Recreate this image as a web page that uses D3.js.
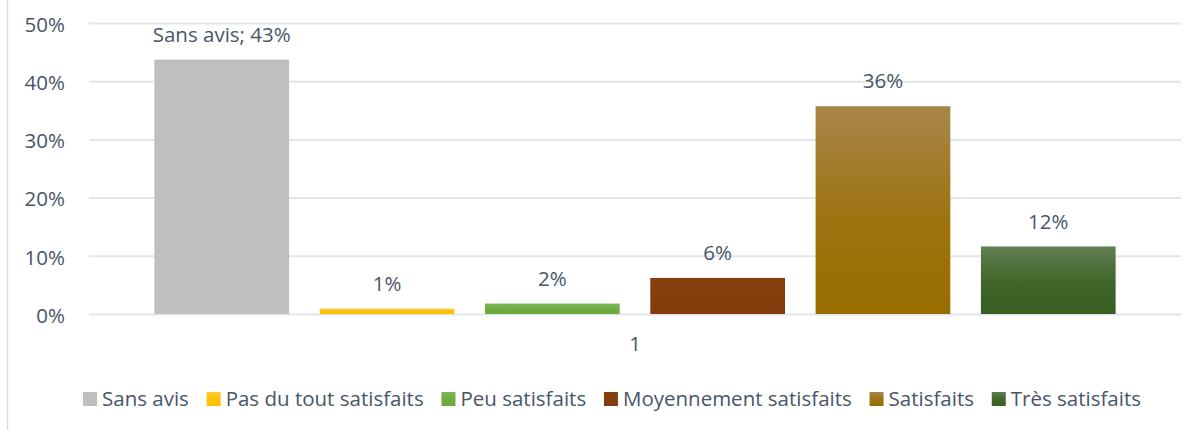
<!DOCTYPE html>
<meta charset="utf-8">
<style>
body { margin: 0; background: #fff; }
svg { display: block; }
text { font-family: "Open Sans", Lato, sans-serif; fill: #4a5568; }
.grid line { stroke: #e2e6ea; stroke-width: 2px; }
</style>
<body>
<svg id="chart" width="1196" height="430"></svg>
<script src="https://cdn.jsdelivr.net/npm/d3@7"></script>
<script>
// data
var categories = ["1"];
var series = ["Sans avis", "Pas du tout satisfaits", "Peu satisfaits", "Moyennement satisfaits", "Satisfaits", "Très satisfaits"];
var values = [0.437, 0.009, 0.018, 0.062, 0.357, 0.116];
var valueLabels = ["Sans avis; 43%", "1%", "2%", "6%", "36%", "12%"];
var yTicks = [0, 0.1, 0.2, 0.3, 0.4, 0.5];
// gradient top / bottom colours per series
var colTop = ["#bfbfbf", "#ffcb2e", "#7db957", "#86400e", "#a8864a", "#5f7f50"];
var colBottom = ["#bfbfbf", "#ffc000", "#6aa73c", "#853c0c", "#996e00", "#385e20"];

var svg = d3.select("#chart");
var plotL = 89, plotR = 1181, plotT = 23, plotB = 314;
var fs = "20.5px";

// chart frame edge on the left
svg.append("line").attr("x1", 7.5).attr("x2", 7.5).attr("y1", 0).attr("y2", 430)
  .attr("stroke", "#d9dde2").attr("stroke-width", 1.5);

var defs = svg.append("defs");
series.forEach(function (s, i) {
  var g = defs.append("linearGradient").attr("id", "grad" + i)
    .attr("x1", 0).attr("y1", 0).attr("x2", 0).attr("y2", 1);
  g.append("stop").attr("offset", "0%").attr("stop-color", colTop[i]);
  g.append("stop").attr("offset", "55%").attr("stop-color", d3.interpolateRgb(colTop[i], colBottom[i])(0.8));
  g.append("stop").attr("offset", "100%").attr("stop-color", colBottom[i]);
});

var y = d3.scaleLinear().domain([0, 0.5]).range([plotB, plotT]);
var x0 = d3.scaleBand().domain(categories).range([plotL, plotR]).paddingOuter(0.068);
var x1 = d3.scaleBand().domain(series).range([0, x0.bandwidth()]).paddingInner(0.185);

// y axis + gridlines
var yAxis = svg.append("g").attr("class", "grid")
  .attr("transform", "translate(" + plotL + ",0)")
  .call(d3.axisLeft(y).tickValues(yTicks).tickFormat(d3.format(".0%"))
    .tickSize(-(plotR - plotL)).tickPadding(24));
yAxis.select(".domain").remove();
yAxis.selectAll("text").style("font-size", fs).attr("dy", "0.4em").attr("fill", "#4a5568");

// x axis
var xAxis = svg.append("g").attr("transform", "translate(0," + plotB + ")")
  .call(d3.axisBottom(x0).tickSize(0).tickPadding(22));
xAxis.select(".domain").remove();
xAxis.selectAll("text").style("font-size", fs).attr("fill", "#4a5568");
svg.selectAll(".tick text").attr("font-family", null);

// bars
var g = svg.append("g").attr("transform", "translate(" + x0(categories[0]) + ",0)");
g.selectAll("rect").data(values).enter().append("rect")
  .attr("x", function (d, i) { return x1(series[i]); })
  .attr("y", function (d) { return y(d); })
  .attr("width", x1.bandwidth())
  .attr("height", function (d) { return y(0) - y(d); })
  .attr("fill", function (d, i) { return "url(#grad" + i + ")"; });

g.selectAll(".lbl").data(values).enter().append("text")
  .attr("class", "lbl")
  .attr("x", function (d, i) { return x1(series[i]) + x1.bandwidth() / 2; })
  .attr("y", function (d) { return y(d) - 25; })
  .attr("dy", "0.35em")
  .attr("text-anchor", "middle")
  .style("font-size", fs)
  .text(function (d, i) { return valueLabels[i]; });

// legend
var legend = svg.append("g").attr("transform", "translate(0,399)");
var items = legend.selectAll("g").data(series).enter().append("g");
items.append("rect").attr("width", 14).attr("height", 14).attr("y", -7)
  .attr("fill", function (d, i) { return "url(#grad" + i + ")"; });
items.append("text").attr("x", 19).attr("dy", "0.35em").style("font-size", fs)
  .text(function (d) { return d; });
var widths = [];
items.each(function () { widths.push(this.querySelector("text").getComputedTextLength() + 19); });
// spread items between the same ends as the reference legend
var gap = (1141 - 83 - d3.sum(widths)) / (series.length - 1);
var xpos = 83;
items.each(function (d, i) {
  d3.select(this).attr("transform", "translate(" + xpos + ",0)");
  xpos += widths[i] + gap;
});
</script>
</body>
